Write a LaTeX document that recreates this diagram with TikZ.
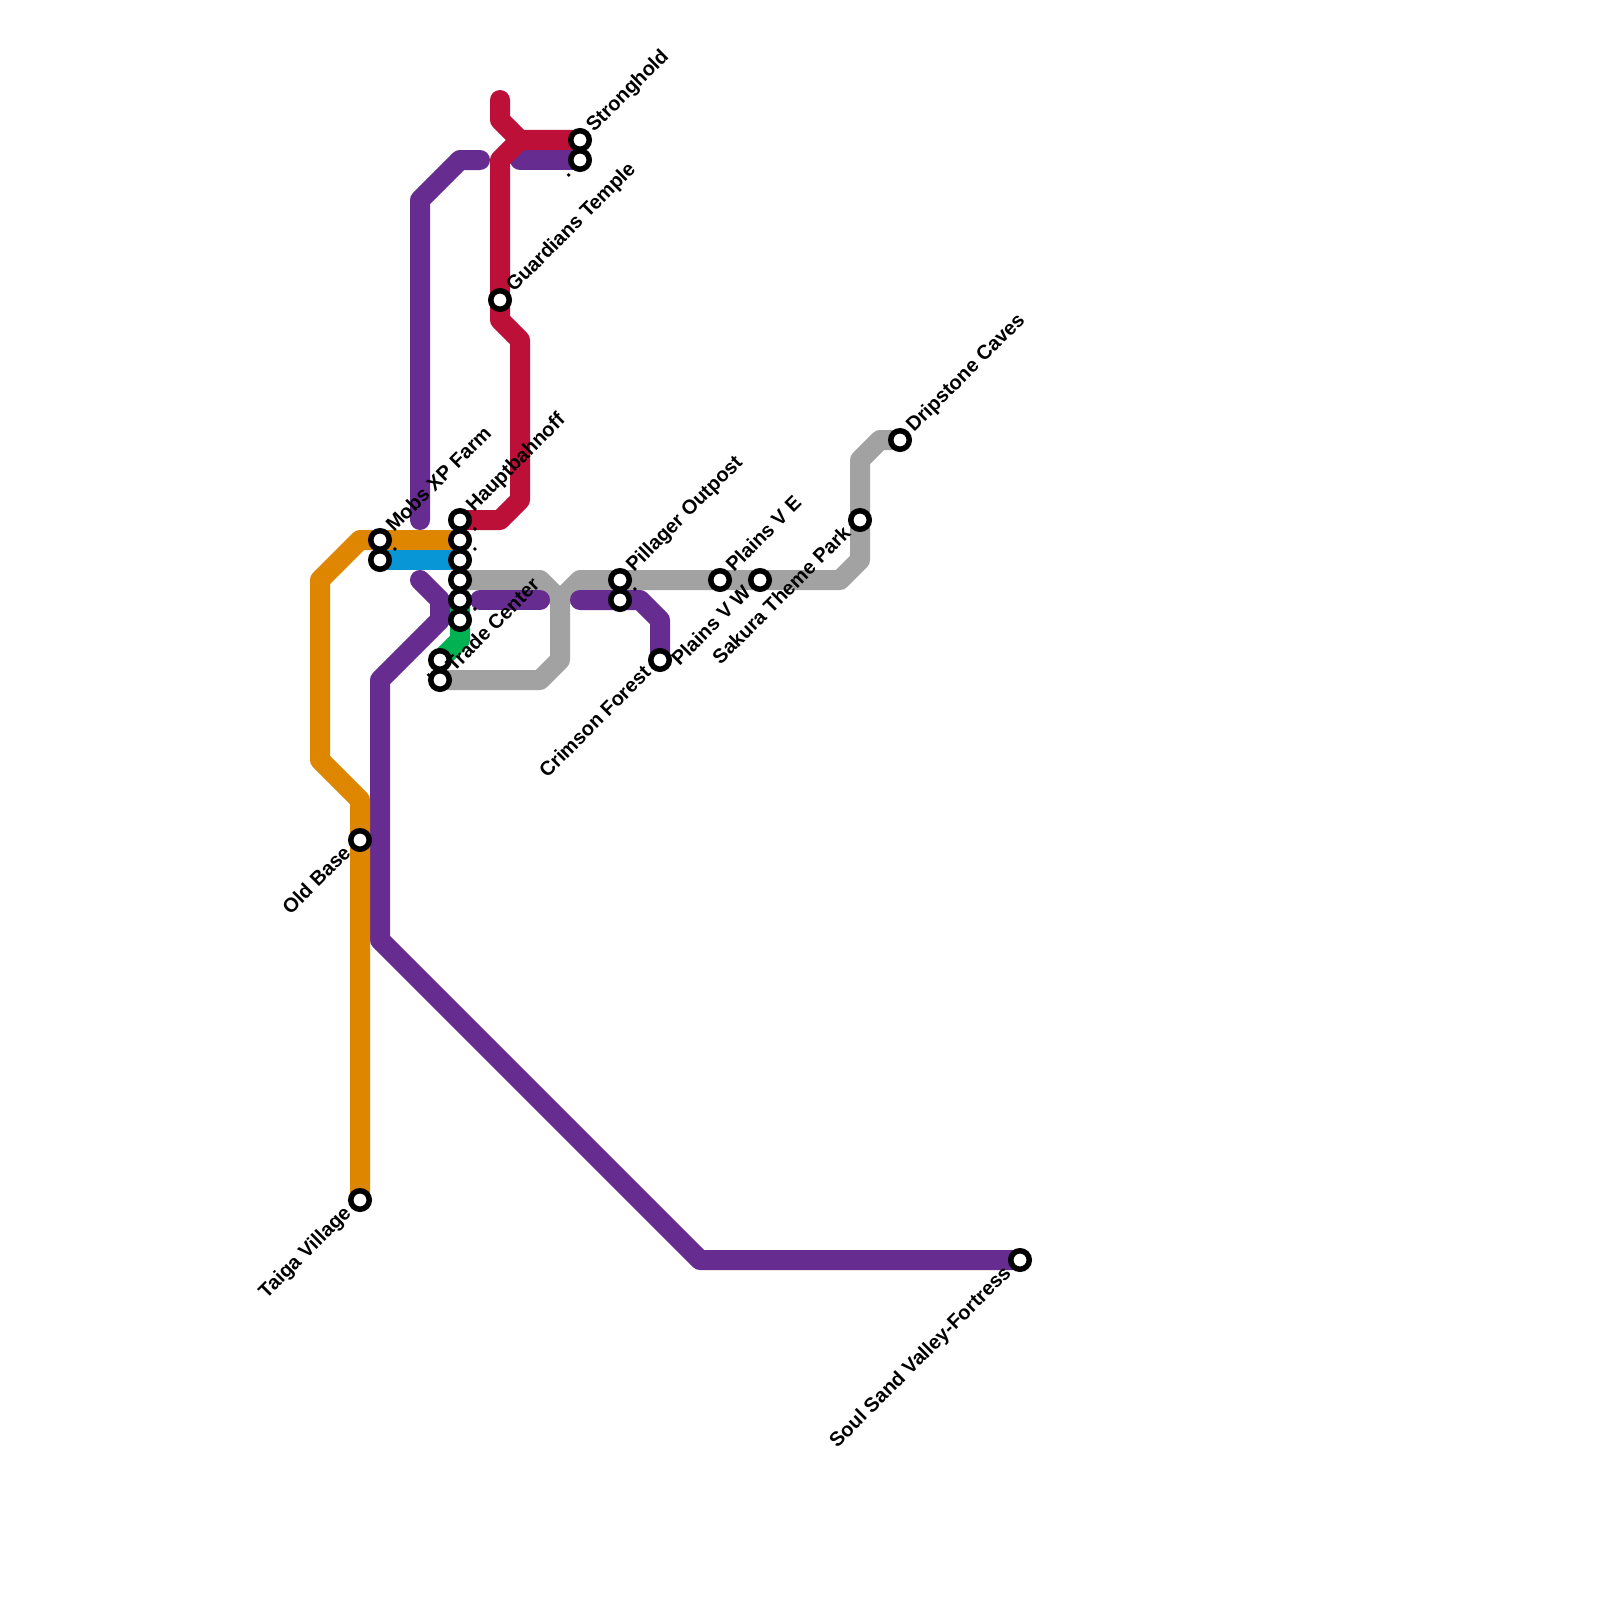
\documentclass[tikz,border=0pt]{standalone}
\usepackage{fontspec}
\setmainfont{Liberation Sans}
\usetikzlibrary{backgrounds}
\definecolor{cpurple}{HTML}{662C90}
\definecolor{cred}{HTML}{BD1038}
\definecolor{corange}{HTML}{DF8600}
\definecolor{cgray}{HTML}{A2A2A2}
\definecolor{cgreen}{HTML}{00B251}
\definecolor{cblue}{HTML}{0896D7}
\tikzset{
  stn/.style={circle,draw=black,fill=white,line width=5.5pt,minimum size=18.5pt,inner sep=0pt,outer sep=0pt},
  route/.style={line width=20pt,line cap=round,line join=round},
  lab/.style={font=\bfseries\fontsize{20}{20}\selectfont,text=black,inner sep=0pt,rotate=45},
  labr/.style={lab,anchor=base west},
  labl/.style={lab,anchor=base east},
}
\begin{document}
\begin{tikzpicture}[x=1pt,y=-1pt]
\useasboundingbox (0,0) rectangle (1600,1600);
\node[stn] (mobs) at (380,540) {};
\node[stn] (mobsb) at (380,560) {};
\node[stn] (haupt) at (460,520) {};
\node[stn] (h2) at (460,540) {};
\node[stn] (h3) at (460,560) {};
\node[stn] (h4) at (460,580) {};
\node[stn] (h5) at (460,600) {};
\node[stn] (h6) at (460,620) {};
\node[stn] (trade) at (440,660) {};
\node[stn] (tradeb) at (440,680) {};
\node[stn] (strong) at (580,140) {};
\node[stn] (strongb) at (580,160) {};
\node[stn] (guard) at (500,300) {};
\node[stn] (pill) at (620,580) {};
\node[stn] (pillb) at (620,600) {};
\node[stn] (crimson) at (660,660) {};
\node[stn] (pve) at (720,580) {};
\node[stn] (pvw) at (760,580) {};
\node[stn] (sakura) at (860,520) {};
\node[stn] (drip) at (900,440) {};
\node[stn] (old) at (360,840) {};
\node[stn] (taiga) at (360,1200) {};
\node[stn] (soul) at (1020,1260) {};
\begin{pgfonlayer}{background}
\draw[route,cgreen] (h5.center) -- (460,640) -- (trade.center);
\draw[route,cgray] (h4.center) -- (540,580) -- (560,600) -- (560,660) -- (540,680) -- (tradeb.center);
\draw[route,cgray] (560,600) -- (580,580) -- (pill.center) -- (pve.center) -- (pvw.center) -- (840,580) -- (860,560) -- (sakura.center) -- (860,460) -- (880,440) -- (drip.center);
\draw[route,cpurple] (soul.center) -- (700,1260) -- (380,940) -- (380,680) -- (440,620) -- (440,600) -- (420,580);
\draw[route,cpurple] (420,520) -- (420,200) -- (460,160) -- (480,160);
\draw[route,cpurple] (520,160) -- (strongb.center);
\draw[route,cpurple] (h5.center) ++(20,0) -- (540,600);
\draw[route,cpurple] (580,600) -- (pillb.center) -- (640,600) -- (660,620) -- (crimson.center);
\draw[route,corange] (taiga.center) -- (old.center) -- (360,800) -- (320,760) -- (320,580) -- (360,540) -- (mobs.center) -- (h2.center);
\draw[route,cblue] (mobsb.center) -- (h3.center);
\draw[route,cred] (500,100) -- (500,120) -- (520,140) -- (strong.center);
\draw[route,cred] (haupt.center) -- (500,520) -- (520,500) -- (520,340) -- (guard.center |- 0,320) -- (guard.center) -- (500,160) -- (520,140);
\end{pgfonlayer}
\node[labr] (lstrong) at ([shift={(14,-7)}]strong.center) {Stronghold};
\node[labl] (lstrongb) at ([shift={(-8,14)}]strongb.center) {.};
\node[labr] (lguard) at ([shift={(14,-7)}]guard.center) {Guardians Temple};
\node[labr] (lmobs) at ([shift={(14,-7)}]mobs.center) {Mobs XP Farm};
\node[labr] (lmobsb) at ([shift={(14,-7)}]mobsb.center) {.};
\node[labr] (lhaupt) at ([shift={(14,-7)}]haupt.center) {Hauptbahnoff};
\node[labr] (lh2) at ([shift={(14,-7)}]h2.center) {.};
\node[labr] (lh3) at ([shift={(14,-7)}]h3.center) {.};
\node[labr] (lh6) at ([shift={(14,-7)}]h6.center) {.};
\node[labr] (ltrade) at ([shift={(14,-7)}]tradeb.center) {Trade Center};
\node[labl] (ltradeb) at ([shift={(-8,14)}]trade.center) {.};
\node[labr] (lpill) at ([shift={(14,-7)}]pill.center) {Pillager Outpost};
\node[labr] (lpillb) at ([shift={(14,-7)}]pillb.center) {.};
\node[labl] (lpvw) at ([shift={(-8,14)}]pvw.center) {Plains V W};
\node[labl] (lcrimson) at ([shift={(-8,14)}]crimson.center) {Crimson Forest};
\node[labr] (lpve) at ([shift={(14,-7)}]pve.center) {Plains V E};
\node[labl] (lsak) at ([shift={(-8,14)}]sakura.center) {Sakura Theme Park};
\node[labr] (ldrip) at ([shift={(14,-7)}]drip.center) {Dripstone Caves};
\node[labl] (lold) at ([shift={(-8,14)}]old.center) {Old Base};
\node[labl] (ltaiga) at ([shift={(-8,14)}]taiga.center) {Taiga Village};
\node[labl] (lsoul) at ([shift={(-8,14)}]soul.center) {Soul Sand Valley-Fortress};
\end{tikzpicture}
\end{document}
